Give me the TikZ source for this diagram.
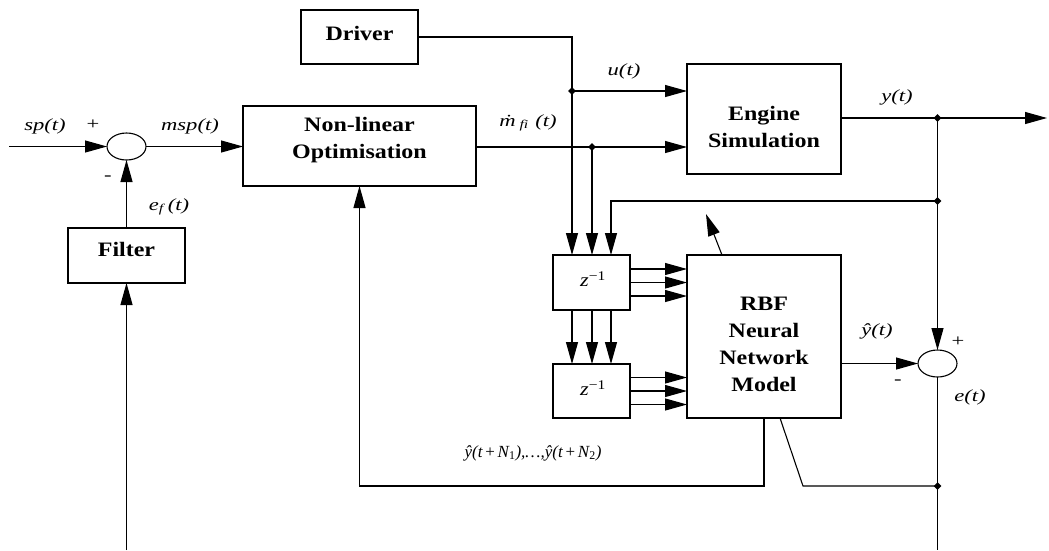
\documentclass[tikz,border=0pt]{standalone}
\usepackage{fontspec}
\setmainfont{Liberation Serif}
\usepackage{graphicx}
\usetikzlibrary{arrows.meta,shapes.geometric,calc}
\newcommand\hstr[1]{\scalebox{1.17}[1]{#1}}
\newcommand\lstr[1]{\scalebox{1.33}[1]{#1}}
\begin{document}
\begin{tikzpicture}[x=1pt,y=-1pt,line width=1.1pt,
  blk/.style={draw,rectangle,inner sep=0pt,outer sep=0pt},
  btxt/.style={align=center,inner sep=0pt,font=\fontsize{20.5}{27}\selectfont\bfseries},
  lbl/.style={inner sep=0pt,font=\fontsize{17}{19}\selectfont\itshape},
  sumj/.style={draw,ellipse,minimum width=39pt,minimum height=27pt,inner sep=0pt,outer sep=0pt},
  jdot/.style={fill,diamond,minimum size=8pt,inner sep=0pt},
  arr/.style={-{Triangle[length=22pt,width=12pt]}}]
\useasboundingbox (0,0) rectangle (1049,550);
% blocks
\node[blk,minimum width=117pt,minimum height=54pt] (driver) at (359.5,37) {};
\node[btxt] (drivert) at (359.5,33) {\hstr{Driver}};
\node[blk,minimum width=233pt,minimum height=80pt] (nlo) at (359.5,146) {};
\node[btxt] (nlot) at (359.5,140) {\hstr{Non-linear}\\\hstr{Optimisation}};
\node[blk,minimum width=117pt,minimum height=55pt] (filter) at (126.5,255.5) {};
\node[btxt] (filtert) at (126.5,249) {\hstr{Filter}};
\node[blk,minimum width=154pt,minimum height=110pt] (eng) at (764,119) {};
\node[btxt] (engt) at (764,127) {\hstr{Engine}\\\hstr{Simulation}};
\node[blk,minimum width=154pt,minimum height=163pt] (rbf) at (764,336.5) {};
\node[btxt] (rbft) at (764,344) {\hstr{RBF}\\\hstr{Neural}\\\hstr{Network}\\\hstr{Model}};
\node[blk,minimum width=77pt,minimum height=55pt] (z1) at (591.5,282.5) {};
\node[lbl,font=\fontsize{19}{20}\selectfont\itshape] (z1t) at (593,279) {\hstr{z\textsuperscript{\upshape −1}}};
\node[blk,minimum width=77pt,minimum height=54pt] (z2) at (591.5,391) {};
\node[lbl,font=\fontsize{19}{20}\selectfont\itshape] (z2t) at (593,388) {\hstr{z\textsuperscript{\upshape −1}}};
\node[sumj] (s1) at (126.5,146.5) {};
\node[sumj] (s2) at (937.5,363.5) {};
% junctions
\node[jdot] (jd) at (572,91) {};
\node[jdot] (jm) at (592,147) {};
\node[jdot] (jy) at (937.5,118) {};
\node[jdot] (jf) at (937.5,201) {};
\node[jdot] (jb) at (937.5,486) {};
\coordinate (sin) at (9,146.5);
\coordinate (fin) at (126.5,550);
\coordinate (yout) at (1047,118);
\coordinate (eend) at (937.5,550);
\coordinate (dk) at (803,486);
\coordinate (adapt) at (706,214);
% connectors
\draw[arr] (sin) -- (s1.west);
\draw[arr] (s1.east) -- (nlo.west |- s1.east);
\draw[arr] (filter.north) -- (s1.south);
\draw[arr] (fin) -- (filter.south);
\draw[arr] (driver.east) -| (jd.center |- z1.north);
\draw[arr] (jd.center) -- (jd.center -| eng.west);
\draw (nlo.east |- jm.center) -- (jm.center);
\draw[arr] (jm.center) -- (jm.center -| eng.west);
\draw[arr] (jm.center) -- (jm.center |- z1.north);
\draw (eng.east |- jy.center) -- (jy.center);
\draw[arr] (jy.center) -- (yout);
\draw (jy.center) -- (jf.center);
\draw[arr] (jf.center) -- (s2.north);
\draw[arr] (jf.center) -| (611,0 |- z1.north);
\draw (s2.south) -- (eend);
\draw[arr] (rbf.east |- s2.west) -- (s2.west);
\foreach \yy in {-13.5,0,13.5}{
  \draw[arr] ($(z1.east)+(0,\yy)$) -- ($(z1.east -| rbf.west)+(0,\yy)$);
  \draw[arr] ($(z2.east)+(0,\yy)$) -- ($(z2.east -| rbf.west)+(0,\yy)$);
}
\foreach \xx in {572,592,611}{
  \draw[arr] (\xx,0 |- z1.south) -- (\xx,0 |- z2.north);
}
\draw[arr] (rbf.south) -- (rbf.south |- jb.center) -| (nlo.south);
\draw (780,0 |- rbf.south) -- (dk) -- (jb.center);
\draw[arr] (722,0 |- rbf.north) -- (adapt);
% labels
\node[lbl] (lsp) at (45,126) {\lstr{sp(t)}};
\node[lbl] (lp1) at (93,125) {\lstr{\upshape +}};
\node[lbl] (lmsp) at (190,126) {\lstr{msp(t)}};
\node[lbl] (lm1) at (108,178) {\lstr{\upshape -}};
\node[lbl] (lef) at (169,207) {\lstr{e\textsubscript{f}\,(t)}};
\node[lbl] (lmf) at (528,123) {\lstr{ṁ\,\textsubscript{fi}\;(t)}};
\node[lbl] (lu) at (624,71) {\lstr{u(t)}};
\node[lbl] (ly) at (897,97) {\lstr{y(t)}};
\node[lbl] (lyh) at (877,331) {\lstr{ŷ(t)}};
\node[lbl] (lp2) at (958,342) {\lstr{\upshape +}};
\node[lbl] (lm2) at (898,382) {\lstr{\upshape -}};
\node[lbl] (le) at (970,397) {\lstr{e(t)}};
\node[lbl] (lpred) at (533,453) {ŷ(t\,\upshape+\,\itshape N\textsubscript{\upshape 1}),…,ŷ(t\,\upshape+\,\itshape N\textsubscript{\upshape 2})};
\end{tikzpicture}
\end{document}
